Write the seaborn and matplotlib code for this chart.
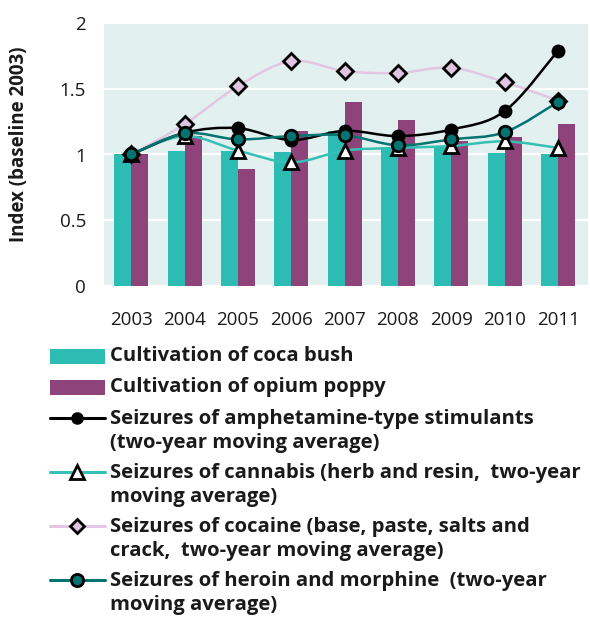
import numpy as np
import pandas as pd
import matplotlib
matplotlib.use("Agg")
import matplotlib.pyplot as plt
import seaborn as sns
from matplotlib.path import Path
from matplotlib.patches import PathPatch, Rectangle
from matplotlib.lines import Line2D

# ---------------- data ----------------
years = ["2003", "2004", "2005", "2006", "2007", "2008", "2009", "2010", "2011"]
coca = [1.00, 1.03, 1.03, 1.02, 1.175, 1.055, 1.06, 1.01, 1.00]
opium = [1.00, 1.14, 0.89, 1.18, 1.40, 1.265, 1.10, 1.13, 1.23]
ats = [1.00, 1.165, 1.20, 1.11, 1.18, 1.14, 1.19, 1.33, 1.79]
cannabis = [1.00, 1.14, 1.03, 0.94, 1.03, 1.05, 1.065, 1.10, 1.05]
cocaine = [1.00, 1.23, 1.52, 1.71, 1.635, 1.62, 1.66, 1.55, 1.41]
heroin = [1.00, 1.16, 1.115, 1.14, 1.147, 1.07, 1.115, 1.17, 1.40]

bar_labels = ["Cultivation of coca bush", "Cultivation of opium poppy"]
line_labels = [
    "Seizures of amphetamine-type stimulants\n(two-year moving average)",
    "Seizures of cannabis (herb and resin,  two-year\nmoving average)",
    "Seizures of cocaine (base, paste, salts and\ncrack,  two-year moving average)",
    "Seizures of heroin and morphine  (two-year\nmoving average)",
]

C_COCA = "#2DBCB3"
C_OPIUM = "#8F437B"
C_BG = "#E2F1F0"
C_HER = "#007470"
C_CAN = "#35C0B6"
C_COC_LINE = "#E3C6E1"
C_COC_FILL = "#E0C5E0"
C_TXT = "#1a1a1a"

FONT = ["Open Sans", "DejaVu Sans"]
sns.set_theme(style="white")
plt.rcParams["font.family"] = FONT

fig = plt.figure(figsize=(5.9, 6.17), dpi=100)
W, H = 590, 617
ax = fig.add_axes([104 / W, 1 - 286 / H, (588 - 104) / W, (286 - 23) / H])
ax.set_facecolor(C_BG)

df = pd.DataFrame({
    "year": years * 2,
    "value": coca + opium,
    "series": [bar_labels[0]] * len(years) + [bar_labels[1]] * len(years),
})
sns.barplot(data=df, x="year", y="value", hue="series", order=years,
            hue_order=bar_labels, palette=[C_COCA, C_OPIUM], width=0.64,
            gap=0, dodge=True, saturation=1, legend=False, ax=ax, zorder=2)
for p in ax.patches:
    p.set_linewidth(0)

def smooth_path(xs, ys, t=0.5):
    pts = np.column_stack([xs, ys]).astype(float)
    n = len(pts)
    verts = [pts[0]]
    codes = [Path.MOVETO]
    for i in range(n - 1):
        p0 = pts[i - 1] if i > 0 else pts[i]
        p1 = pts[i]
        p2 = pts[i + 1]
        p3 = pts[i + 2] if i + 2 < n else pts[i + 1]
        c1 = p1 + (p2 - p0) * t / 3
        c2 = p2 - (p3 - p1) * t / 3
        verts += [c1, c2, p2]
        codes += [Path.CURVE4] * 3
    return Path(verts, codes)

xpos = np.arange(len(years))
# values, line colour, marker, face, marker size (plot), marker size (legend), zorder
series = [
    (cocaine, C_COC_LINE, "D", C_COC_FILL, 8.5, 7, 3),
    (cannabis, C_CAN, "^", "white", 10.5, 9.5, 4),
    (ats, "black", "o", "black", 8, 7, 5),
    (heroin, C_HER, "o", C_HER, 9, 8.8, 6),
]
for vals, lc, mk, mfc, ms, lms, z in series:
    ax.add_patch(PathPatch(smooth_path(xpos, vals), fill=False, edgecolor=lc,
                           lw=1.8, zorder=z))
    ax.plot(xpos, vals, linestyle="none", marker=mk, markersize=ms,
            markerfacecolor=mfc, markeredgecolor="black", markeredgewidth=2,
            zorder=z + 0.5)

ax.set_xlim(-0.51, 8.56)
ax.set_ylim(0, 2)
ax.set_yticks([0, 0.5, 1, 1.5, 2])
ax.set_yticklabels(["0", "0.5", "1", "1.5", "2"])
ax.yaxis.grid(True, color="white", lw=1.6, zorder=1)
ax.set_axisbelow(True)
ax.tick_params(axis="y", length=0, pad=13, labelsize=13.5, colors=C_TXT)
ax.tick_params(axis="x", length=0, pad=18, labelsize=13.5, colors=C_TXT)
ax.set_xlabel("")
ax.set_ylabel("")
for s in ax.spines.values():
    s.set_visible(False)

fig.text(19 / W, 1 - 144 / H, "Index (baseline 2003)", rotation=90,
         ha="center", va="center", fontsize=13.5, fontweight="bold",
         color=C_TXT)

# ---------------- legend (manual) ----------------
def fy(y):
    return 1 - y / H

hx0, hx1, tx = 50 / W, 105 / W, 110 / W
lfs = 14.6
entries_y = [356, 387, 418, 472, 526, 580]
for yy, col in zip(entries_y[:2], [C_COCA, C_OPIUM]):
    fig.add_artist(Rectangle((hx0, fy(yy + 7.5)), hx1 - hx0, 15 / H,
                             transform=fig.transFigure, color=col, lw=0))
for lbl, yy in zip(bar_labels, entries_y[:2]):
    fig.text(tx, fy(yy), lbl, ha="left", va="center", fontsize=lfs,
             fontweight="bold", color=C_TXT)

for (vals, lc, mk, mfc, ms, lms, z), lbl, yy in zip(
        [series[2], series[1], series[0], series[3]], line_labels, entries_y[2:]):
    fig.add_artist(Line2D([hx0, hx1], [fy(yy), fy(yy)], color=lc, lw=2.2,
                          transform=fig.transFigure))
    fig.add_artist(Line2D([(hx0 + hx1) / 2], [fy(yy)], linestyle="none",
                          marker=mk, markersize=lms, markerfacecolor=mfc,
                          markeredgecolor="black", markeredgewidth=2,
                          transform=fig.transFigure))
    fig.text(tx, fy(yy + 13), lbl, ha="left", va="center", fontsize=lfs,
             fontweight="bold", color=C_TXT, linespacing=1.22)

fig.savefig("out.png", dpi=100)
